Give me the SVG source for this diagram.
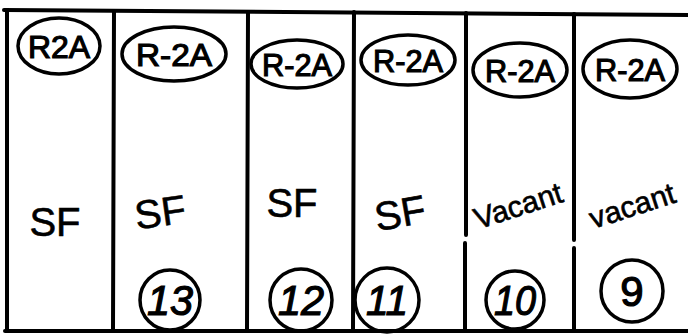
<svg xmlns="http://www.w3.org/2000/svg" width="688" height="336" viewBox="0 0 688 336">
<style>
.ln{stroke:#000;stroke-width:4;fill:none;stroke-linecap:round}
.ov{stroke:#000;stroke-width:3.5;fill:none}
.t{font-family:"Liberation Sans",Arial,sans-serif;fill:#000;stroke:#000;stroke-width:1.2;text-anchor:middle}
.z{font-size:32px}
.u{font-size:40px}
.v{font-size:30px}
.n{font-size:42px;font-style:italic}
</style>
<rect width="688" height="336" fill="#fff"/>
<g id="connectors">
<path class="ln" d="M4 10 L688 15"/>
<path class="ln" d="M7 10 L7 331"/>
<path class="ln" d="M5 331 L688 331"/>
<path class="ln" d="M114 11 L113 331"/>
<path class="ln" d="M248 12 L247 331"/>
<path class="ln" d="M354 12 L353 331"/>
<path class="ln" d="M466 13 L466 235 M465 243 L465 331"/>
<path class="ln" d="M574 14 L574 240 M574 248 L574 331"/>
</g>
<g id="zone1"><ellipse class="ov" cx="59" cy="46" rx="41" ry="28"/><text class="t z" x="59" y="58" textLength="62" lengthAdjust="spacingAndGlyphs">R2A</text></g>
<g id="zone2"><ellipse class="ov" cx="174" cy="54" rx="52" ry="27"/><text class="t z" x="174" y="66" textLength="76" lengthAdjust="spacingAndGlyphs">R-2A</text></g>
<g id="zone3"><ellipse class="ov" cx="297" cy="64" rx="46" ry="24"/><text class="t z" x="297" y="76" textLength="70" lengthAdjust="spacingAndGlyphs">R-2A</text></g>
<g id="zone4"><ellipse class="ov" cx="408" cy="60" rx="47" ry="25"/><text class="t z" x="408" y="72" textLength="70" lengthAdjust="spacingAndGlyphs">R-2A</text></g>
<g id="zone5"><ellipse class="ov" cx="520" cy="70" rx="47" ry="27"/><text class="t z" x="520" y="82" textLength="70" lengthAdjust="spacingAndGlyphs">R-2A</text></g>
<g id="zone6"><ellipse class="ov" cx="630" cy="69" rx="47" ry="29"/><text class="t z" x="630" y="81" textLength="70" lengthAdjust="spacingAndGlyphs">R-2A</text></g>
<g id="use1"><text class="t u" x="55" y="236" style="stroke-width:0.6">SF</text></g>
<g id="use2"><text class="t u" x="160" y="226" style="stroke-width:0.6" transform="rotate(-8 160 211)">SF</text></g>
<g id="use3"><text class="t u" x="292" y="217" style="stroke-width:0.6">SF</text></g>
<g id="use4"><text class="t u" x="400" y="227" style="stroke-width:0.6" transform="rotate(-10 400 213)">SF</text></g>
<g id="use5"><text class="t v" x="518" y="216" style="stroke-width:0.6" transform="rotate(-18 518 205)">Vacant</text></g>
<g id="use6"><text class="t v" x="632" y="216" style="stroke-width:0.6" transform="rotate(-18 632 205)">vacant</text></g>
<g id="lot13"><circle class="ov" cx="170" cy="300" r="30"/><text class="t n" x="170" y="315" textLength="46" lengthAdjust="spacingAndGlyphs">13</text></g>
<g id="lot12"><circle class="ov" cx="301" cy="300" r="31"/><text class="t n" x="301" y="315" textLength="46" lengthAdjust="spacingAndGlyphs">12</text></g>
<g id="lot11"><circle class="ov" cx="387" cy="300" r="32"/><text class="t n" x="387" y="315" textLength="42" lengthAdjust="spacingAndGlyphs">11</text></g>
<g id="lot10"><circle class="ov" cx="515" cy="300" r="29"/><text class="t n" x="515" y="315" textLength="42" lengthAdjust="spacingAndGlyphs">10</text></g>
<g id="lot9"><circle class="ov" cx="632" cy="291" r="31"/><text class="t n" x="632" y="306" style="font-style:normal">9</text></g>
</svg>
